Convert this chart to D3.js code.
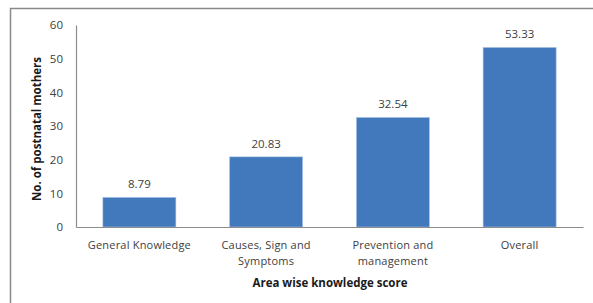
<!DOCTYPE html>
<html><head><meta charset="utf-8">
<script src="https://cdn.jsdelivr.net/npm/d3@7"></script>
<style>body{margin:0;background:#fff}svg{display:block}</style>
</head><body>
<script>
const categories = [["General Knowledge"], ["Causes, Sign and", "Symptoms"], ["Prevention and", "management"], ["Overall"]];
const values = [8.79, 20.83, 32.54, 53.33];
const yTicks = [0, 10, 20, 30, 40, 50, 60];
const xTitle = "Area wise knowledge score";
const yTitle = "No. of postnatal mothers";

const W = 593, H = 303;
const svg = d3.select("body").append("svg").attr("width", W).attr("height", H);
const font = "'Open Sans', 'Liberation Sans', Arial, sans-serif";

// frame
svg.append("path").attr("d", `M10.5,${H} V8.5 H${W}`).attr("fill", "none").attr("stroke", "#8a8a8a").attr("stroke-width", 1.5);

const idx = d3.range(values.length);
const x = d3.scaleBand().domain(idx).range([76, 583]).paddingInner(0.424).paddingOuter(0.212);
const y = d3.scaleLinear().domain([0, 60]).range([227, 25]);

// bars
svg.selectAll("rect.bar").data(idx).join("rect").attr("class", "bar")
  .attr("x", i => x(i)).attr("width", x.bandwidth())
  .attr("y", i => y(values[i])).attr("height", i => y(0) - y(values[i]))
  .attr("fill", "#4179bc").attr("stroke", "#a9c2e3").attr("stroke-width", 0.6);

// value labels
svg.selectAll("text.val").data(idx).join("text").attr("class", "val")
  .attr("x", i => x(i) + x.bandwidth() / 2).attr("y", i => y(values[i]) - 9)
  .attr("text-anchor", "middle").attr("font-family", font).attr("font-size", 11.5).attr("fill", "#404040")
  .text(i => values[i].toFixed(2));

// y axis
const ya = svg.append("g").attr("transform", "translate(76,0)")
  .call(d3.axisLeft(y).tickValues(yTicks).tickSize(0).tickPadding(13).tickFormat(d3.format("d")));
ya.select(".domain").attr("stroke", "#8c8c8c").attr("stroke-width", 1.2);
ya.selectAll("text").attr("font-family", font).attr("font-size", 11.5).attr("fill", "#404040");

// x axis
const xa = svg.append("g").attr("transform", `translate(0,${y(0)})`)
  .call(d3.axisBottom(x).tickSize(0).tickFormat(""));
xa.select(".domain").attr("stroke", "#8c8c8c").attr("stroke-width", 1.2);
xa.selectAll(".tick").each(function(i) {
  const t = d3.select(this).append("text").attr("fill", "#404040").attr("font-family", font)
    .attr("font-size", 11).attr("letter-spacing", 0.2).attr("text-anchor", "middle").attr("y", 22);
  categories[i].forEach((line, k) => t.append("tspan").attr("x", 0).attr("dy", k === 0 ? 0 : 16).text(line));
});

// titles
svg.append("text").attr("x", 330).attr("y", 287).attr("text-anchor", "middle")
  .attr("font-family", font).attr("font-size", 11.5).attr("font-weight", "bold").attr("fill", "#1a1a1a").text(xTitle);
svg.append("text").attr("transform", `translate(41,${(y(0) + y(60)) / 2 + 3}) rotate(-90)`).attr("text-anchor", "middle")
  .attr("font-family", font).attr("font-size", 11.5).attr("font-weight", "bold").attr("fill", "#1a1a1a").text(yTitle);
</script>
</body></html>
